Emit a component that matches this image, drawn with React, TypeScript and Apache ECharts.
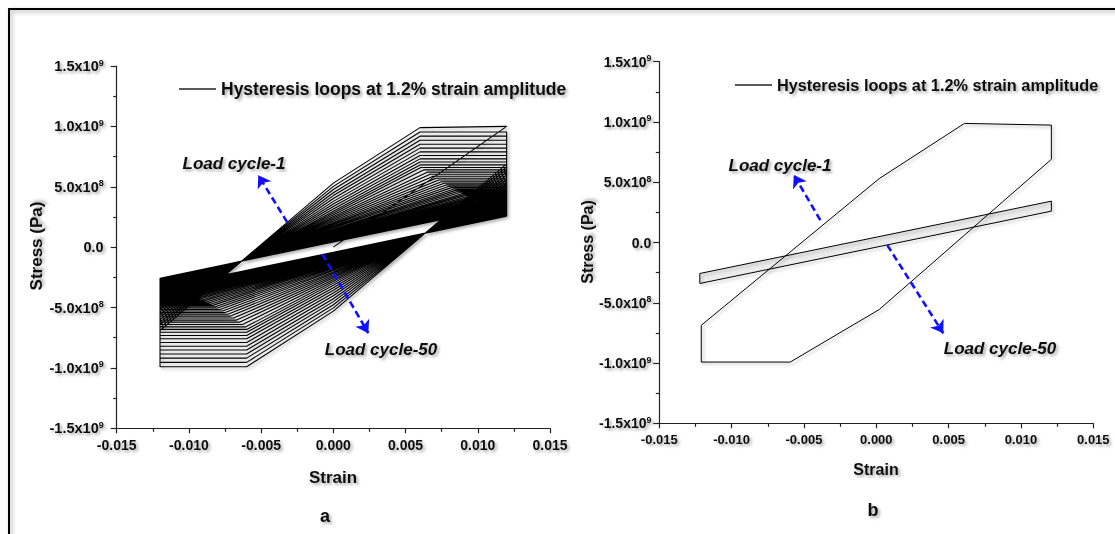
import React, { useEffect, useRef } from "react";
import * as echarts from "echarts";

const FONT = "'Liberation Sans', Arial, Helvetica, sans-serif";
const LEGEND_NAME = "Hysteresis loops at 1.2% strain amplitude";

// axis ranges
const strainMin = -0.015;
const strainMax = 0.015;
const strainStep = 0.005;
const stressMin = -1.5e9;
const stressMax = 1.5e9;
const stressStep = 5e8;

// panel a: strain amplitude and initial loading
const strainAmplitude = 0.012;
const initialLoadStrain = [0, 0.012];
const initialLoadStress = [0, 1.0e9];

// panel a: per-cycle loop parameters (cycles 1..50)
const peakStress = [
  9.9e8, 9.54e8, 9.19e8, 8.85e8, 8.52e8, 8.2e8, 7.89e8, 7.59e8, 7.31e8, 7.05e8,
  6.81e8, 6.6e8, 6.4e8, 6.21e8, 6.04e8, 5.87e8, 5.71e8, 5.56e8, 5.42e8, 5.29e8,
  5.16e8, 5.04e8, 4.93e8, 4.82e8, 4.72e8, 4.63e8, 4.54e8, 4.45e8, 4.37e8, 4.29e8,
  4.22e8, 4.15e8, 4.09e8, 4.03e8, 3.97e8, 3.92e8, 3.87e8, 3.82e8, 3.77e8, 3.73e8,
  3.69e8, 3.65e8, 3.61e8, 3.58e8, 3.55e8, 3.52e8, 3.49e8, 3.46e8, 3.43e8, 3.4e8,
];
const kneeStrain = [
  6.0e-3, 6.0e-3, 6.0e-3, 6.0e-3, 6.0e-3, 6.0e-3, 6.0e-3, 6.0e-3, 6.0e-3, 6.0e-3,
  6.0e-3, 6.06e-3, 6.28e-3, 6.5e-3, 6.7e-3, 6.91e-3, 7.11e-3, 7.3e-3, 7.49e-3, 7.67e-3,
  7.85e-3, 8.02e-3, 8.18e-3, 8.35e-3, 8.51e-3, 8.65e-3, 8.8e-3, 8.95e-3, 9.1e-3, 9.24e-3,
  9.37e-3, 9.51e-3, 9.63e-3, 9.76e-3, 9.89e-3, 10.0e-3, 10.12e-3, 10.24e-3, 10.37e-3, 10.48e-3,
  10.59e-3, 10.71e-3, 10.84e-3, 10.94e-3, 11.05e-3, 11.17e-3, 11.3e-3, 11.45e-3, 11.64e-3, 12.0e-3,
];
const zeroStrainStress = [
  5.3e8, 5.03e8, 4.77e8, 4.51e8, 4.27e8, 4.03e8, 3.79e8, 3.57e8, 3.36e8, 3.16e8,
  2.98e8, 2.83e8, 2.68e8, 2.54e8, 2.41e8, 2.28e8, 2.16e8, 2.05e8, 1.94e8, 1.85e8,
  1.75e8, 1.66e8, 1.58e8, 1.49e8, 1.42e8, 1.35e8, 1.28e8, 1.22e8, 1.16e8, 1.1e8,
  1.04e8, 0.99e8, 0.95e8, 0.9e8, 0.86e8, 0.82e8, 0.78e8, 0.74e8, 0.71e8, 0.68e8,
  0.65e8, 0.62e8, 0.59e8, 0.56e8, 0.54e8, 0.52e8, 0.5e8, 0.47e8, 0.45e8, 0.43e8,
];
const minStrainStress = [
  -6.9e8, -6.66e8, -6.43e8, -6.2e8, -5.98e8, -5.77e8, -5.56e8, -5.36e8, -5.17e8, -5.0e8,
  -4.84e8, -4.7e8, -4.57e8, -4.44e8, -4.33e8, -4.22e8, -4.11e8, -4.01e8, -3.92e8, -3.83e8,
  -3.74e8, -3.66e8, -3.59e8, -3.52e8, -3.45e8, -3.39e8, -3.33e8, -3.27e8, -3.22e8, -3.16e8,
  -3.12e8, -3.07e8, -3.03e8, -2.99e8, -2.95e8, -2.92e8, -2.88e8, -2.85e8, -2.82e8, -2.79e8,
  -2.76e8, -2.74e8, -2.71e8, -2.69e8, -2.67e8, -2.65e8, -2.63e8, -2.61e8, -2.59e8, -2.57e8,
];

// panel b: first and last cycle
const cycle1Strain = [0.0121, 0.00609, 0.0002, -0.0121, -0.0121, -0.00595, 0.0002, 0.0121, 0.0121];
const cycle1Stress = [9.74e8, 9.88e8, 5.3e8, -6.87e8, -9.92e8, -9.92e8, -5.56e8, 6.9e8, 9.74e8];
const cycle50Strain = [-0.0122, 0.0121, 0.0121, -0.0122, -0.0122];
const cycle50Stress = [-2.57e8, 3.43e8, 2.6e8, -3.4e8, -2.57e8];

// annotation arrows (strain, stress)
const arrowUpA = [[-0.0032, 2.07e8], [-0.0052, 5.96e8]];
const arrowDownA = [[-0.00076, -0.58e8], [0.00242, -7.12e8]];
const arrowUpB = [[-0.00387, 1.85e8], [-0.0057, 5.6e8]];
const arrowDownB = [[0.00076, -0.22e8], [0.00463, -7.53e8]];

const shadowText = {
  textShadowColor: "rgba(0,0,0,0.35)",
  textShadowBlur: 3,
  textShadowOffsetX: 2,
  textShadowOffsetY: 2,
};

function buildPanelA(): number[][] {
  const pts: number[][] = [];
  for (let k = 0; k < initialLoadStrain.length; k++) pts.push([initialLoadStrain[k], initialLoadStress[k]]);
  for (let i = 0; i < peakStress.length; i++) {
    const S = peakStress[i];
    const xb = kneeStrain[i];
    const c = zeroStrainStress[i];
    const d = minStrainStress[i];
    if (i > 0) pts.push([strainAmplitude, S]);
    pts.push([xb, S]);
    pts.push([0, c]);
    pts.push([-strainAmplitude, d]);
    pts.push([-strainAmplitude, -S]);
    pts.push([-xb, -S]);
    pts.push([0, -c]);
    pts.push([strainAmplitude, -d]);
  }
  return pts;
}

const zip = (xs: number[], ys: number[]) => xs.map((x, i) => [x, ys[i]]);

function yLabel(v: number) {
  if (Math.abs(v) < 1) return "{m|0.0}";
  const e = Math.floor(Math.log10(Math.abs(v)) + 1e-9);
  const m = v / Math.pow(10, e);
  return `{m|${m.toFixed(1)}x10}{s|${e}}`;
}

function makeXAxis(gridIndex: number, fontSize: number) {
  return {
    gridIndex,
    type: "value",
    min: strainMin,
    max: strainMax,
    interval: strainStep,
    axisLine: { show: true, onZero: false, lineStyle: { color: "#222", width: 1.2 } },
    axisTick: { show: true, length: 5, lineStyle: { color: "#222", width: 1.2 } },
    minorTick: { show: true, splitNumber: 2, length: 3.5, lineStyle: { color: "#222", width: 1.2 } },
    splitLine: { show: false },
    minorSplitLine: { show: false },
    axisLabel: {
      formatter: (v: number) => v.toFixed(3),
      fontFamily: FONT,
      fontWeight: "bold",
      fontSize,
      color: "#111",
      margin: 10,
      ...shadowText,
    },
  };
}

function makeYAxis(gridIndex: number, fontSize: number, margin: number) {
  const base = { fontFamily: FONT, fontWeight: "bold", color: "#111", ...shadowText };
  return {
    gridIndex,
    type: "value",
    min: stressMin,
    max: stressMax,
    interval: stressStep,
    axisLine: { show: true, onZero: false, lineStyle: { color: "#222", width: 1.2 } },
    axisTick: { show: true, length: 6, lineStyle: { color: "#222", width: 1.2 } },
    minorTick: { show: true, splitNumber: 2, length: 3.5, lineStyle: { color: "#222", width: 1.2 } },
    splitLine: { show: false },
    minorSplitLine: { show: false },
    axisLabel: {
      formatter: yLabel,
      margin,
      ...base,
      rich: {
        m: { ...base, fontSize, lineHeight: 16 },
        s: { ...base, fontSize: fontSize * 0.62, lineHeight: 8, verticalAlign: "top" },
      },
    },
  };
}

function textEl(text: string, x: number, y: number, fontSize: number, opts: any = {}) {
  return {
    type: "text",
    x,
    y,
    rotation: opts.rotation || 0,
    silent: true,
    style: {
      text,
      fontFamily: FONT,
      fontWeight: "bold",
      fontStyle: opts.italic ? "italic" : "normal",
      fontSize,
      fill: "#111",
      align: "center",
      verticalAlign: "middle",
      textAlign: "center",
      textVerticalAlign: "middle",
      textShadowColor: "rgba(0,0,0,0.35)",
      textShadowBlur: 3,
      textShadowOffsetX: 2,
      textShadowOffsetY: 2,
    },
  };
}

function arrowSeries(xi: number, coords: number[][][]) {
  return {
    type: "lines",
    coordinateSystem: "cartesian2d",
    xAxisIndex: xi,
    yAxisIndex: xi,
    silent: true,
    z: 5,
    symbol: ["none", "arrow"],
    symbolSize: [8, 12],
    lineStyle: { color: "#1010ff", width: 2.6, type: [7, 4], opacity: 1, curveness: 0 },
    data: coords.map((c) => ({ coords: c })),
  };
}

const lineShadow = {
  shadowColor: "rgba(0,0,0,0.3)",
  shadowBlur: 3,
  shadowOffsetX: 2,
  shadowOffsetY: 2,
};

export default function App() {
  const ref = useRef<HTMLDivElement>(null);
  useEffect(() => {
    if (!ref.current) return;
    const chart = echarts.init(ref.current, null, { renderer: "svg" });
    const legendBase = {
      data: [LEGEND_NAME],
      icon: "rect",
      itemWidth: 37,
      itemHeight: 1.5,
      padding: 0,
      itemGap: 6,
      selectedMode: false,
    };
    chart.setOption({
      animation: false,
      backgroundColor: "#fff",
      grid: [
        { left: 116.7, top: 66, width: 433.3, height: 362.3 },
        { left: 659.3, top: 61.7, width: 434, height: 361.6 },
      ],
      xAxis: [makeXAxis(0, 14), makeXAxis(1, 13)],
      yAxis: [makeYAxis(0, 14.5, 13), makeYAxis(1, 14, 8)],
      legend: [
        {
          ...legendBase,
          left: 179,
          top: 80,
          textStyle: { fontFamily: FONT, fontWeight: "bold", fontSize: 17.5, color: "#111", ...shadowText },
        },
        {
          ...legendBase,
          left: 735,
          top: 77,
          textStyle: { fontFamily: FONT, fontWeight: "bold", fontSize: 16.3, color: "#111", ...shadowText },
        },
      ],
      series: [
        {
          name: LEGEND_NAME,
          type: "line",
          xAxisIndex: 0,
          yAxisIndex: 0,
          showSymbol: false,
          symbol: "none",
          silent: true,
          color: "#222",
          lineStyle: { color: "#000", width: 1.1, ...lineShadow },
          data: buildPanelA(),
        },
        {
          name: "cycle50fill",
          type: "custom",
          xAxisIndex: 1,
          yAxisIndex: 1,
          silent: true,
          z: 1,
          data: [[0, 0]],
          renderItem: (_p: any, api: any) => ({
            type: "polygon",
            shape: { points: cycle50Strain.map((x, i) => api.coord([x, cycle50Stress[i]])) },
            style: { fill: "#ececec", stroke: "none" },
          }),
        },
        {
          name: LEGEND_NAME,
          type: "line",
          xAxisIndex: 1,
          yAxisIndex: 1,
          showSymbol: false,
          symbol: "none",
          silent: true,
          color: "#222",
          lineStyle: { color: "#000", width: 1, ...lineShadow },
          data: zip(cycle1Strain, cycle1Stress),
        },
        {
          name: LEGEND_NAME,
          type: "line",
          xAxisIndex: 1,
          yAxisIndex: 1,
          showSymbol: false,
          symbol: "none",
          silent: true,
          color: "#222",
          lineStyle: { color: "#000", width: 1, ...lineShadow },
          data: zip(cycle50Strain, cycle50Stress),
        },
        arrowSeries(0, [arrowUpA, arrowDownA]),
        arrowSeries(1, [arrowUpB, arrowDownB]),
      ],
      graphic: [
        {
          type: "rect",
          silent: true,
          shape: { x: 9, y: 9, width: 1300, height: 700 },
          style: {
            fill: "none",
            stroke: "#000",
            lineWidth: 2,
            shadowColor: "rgba(0,0,0,0.35)",
            shadowBlur: 4,
            shadowOffsetX: 2,
            shadowOffsetY: 2,
          },
        },
        textEl("Stress (Pa)", 36, 246, 17, { rotation: Math.PI / 2 }),
        textEl("Stress (Pa)", 587, 242, 16, { rotation: Math.PI / 2 }),
        textEl("Strain", 333, 477, 17),
        textEl("Strain", 876, 469, 16),
        textEl("a", 325, 516, 18),
        textEl("b", 873, 510, 18),
        textEl("Load cycle-1", 234, 163, 17, { italic: true }),
        textEl("Load cycle-50", 381, 349, 17, { italic: true }),
        textEl("Load cycle-1", 780, 165, 17, { italic: true }),
        textEl("Load cycle-50", 1000, 348, 17, { italic: true }),
      ],
    });
    return () => chart.dispose();
  }, []);
  return (
    <div
      ref={ref}
      style={{ position: "fixed", left: 0, top: 0, width: 1115, height: 534, background: "#fff" }}
    />
  );
}
